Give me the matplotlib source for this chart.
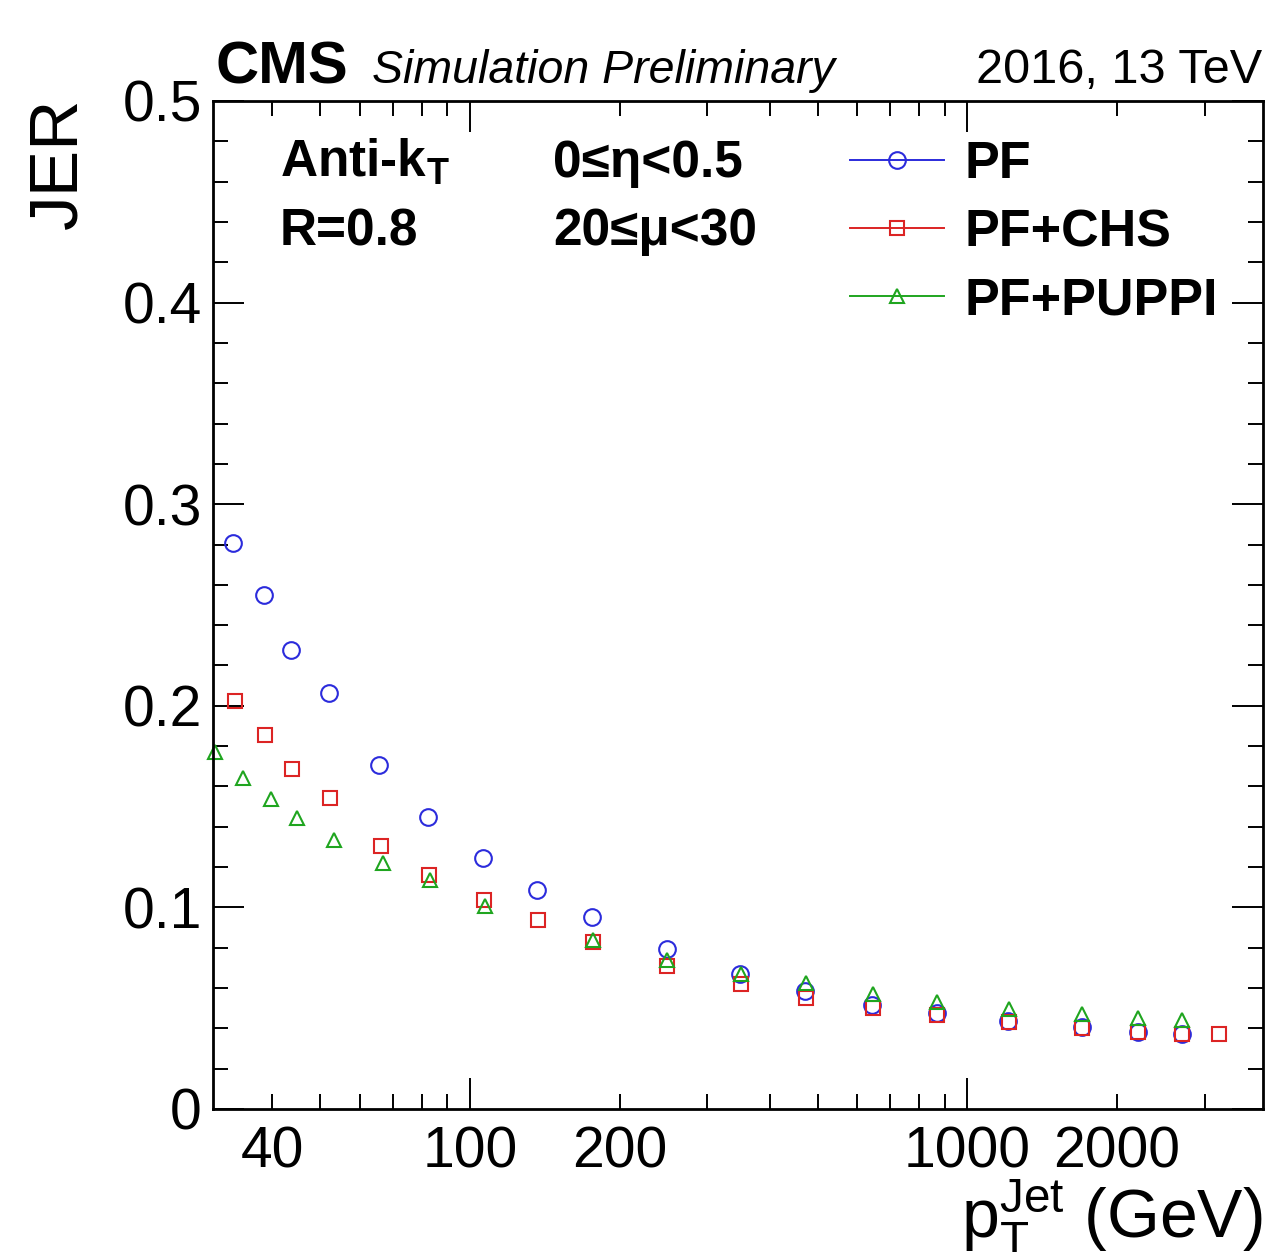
import matplotlib
matplotlib.use("Agg")
import matplotlib.pyplot as plt
from matplotlib.ticker import FixedLocator, FixedFormatter
from matplotlib.lines import Line2D


# Daten
pt_pf = [33.4, 38.5, 43.6, 52.0, 65.6, 82.2, 105.9, 136.2, 175.8,
         248.6, 349, 472, 644, 867, 1209, 1702, 2203, 2702]
jer_pf = [0.2806, 0.2550, 0.2277, 0.2062, 0.1706, 0.1450, 0.1247, 0.1086, 0.0951,
          0.0792, 0.0670, 0.0585, 0.0516, 0.0475, 0.0438, 0.0409, 0.0383, 0.0372]

pt_chs = [33.7, 38.7, 43.8, 52.2, 66.1, 82.8, 106.8, 137.2, 176.9,
          249, 350, 473, 646, 867, 1210, 1702, 2203, 2702, 3200]
jer_chs = [0.2024, 0.1855, 0.1685, 0.1541, 0.1305, 0.1161, 0.1037, 0.0938, 0.0830,
           0.0708, 0.0620, 0.0551, 0.0502, 0.0464, 0.0431, 0.0401, 0.0381, 0.0371, 0.0371]

pt_puppi = [30.7, 34.9, 39.8, 44.8, 53.3, 66.7, 83.0, 107.0, 176.9,
            249, 350, 473, 646, 867, 1210, 1702, 2203, 2702]
jer_puppi = [0.1772, 0.1644, 0.1540, 0.1441, 0.1334, 0.1218, 0.1136, 0.1008, 0.0838,
             0.0738, 0.0670, 0.0626, 0.0568, 0.0532, 0.0497, 0.0470, 0.0449, 0.0439]

labels = ["PF", "PF+CHS", "PF+PUPPI"]
colors = ["#2b2bdc", "#dc2424", "#1fa51f"]
markers = ["o", "s", "^"]
msizes = [12, 10, 10]

x_major = [100, 1000]
x_minor = [40, 50, 60, 70, 80, 90, 200, 300, 400, 500, 600, 700, 800, 900, 2000, 3000]
x_minor_labels = ["40", "", "", "", "", "", "200", "", "", "", "", "", "", "", "2000", ""]

# Plot-Einstellungen
DPI = 100
FONT = ["Liberation Sans", "DejaVu Sans"]
plt.rcParams["font.family"] = FONT
plt.rcParams["mathtext.fontset"] = "custom"
plt.rcParams["mathtext.rm"] = "Liberation Sans"
plt.rcParams["mathtext.bf"] = "Liberation Sans:bold"
plt.rcParams["mathtext.it"] = "Liberation Sans:italic"


def main():
    fig = plt.figure(figsize=(12.67, 12.52), dpi=DPI)
    ax = fig.add_axes([213 / 1267, 1 - 1109 / 1252, 1050 / 1267, 1008 / 1252])

    series = [(pt_pf, jer_pf), (pt_chs, jer_chs), (pt_puppi, jer_puppi)]
    for (x, y), c, m, ms in zip(series, colors, markers, msizes):
        ax.plot(x, y, linestyle="none", marker=m, ms=ms, mfc="none",
                mec=c, mew=1.5, clip_on=False)

    ax.set_xscale("log")
    ax.set_xlim(30.4, 3930)
    ax.set_ylim(0, 0.5)

    # Achsen-Ticks (ROOT-Stil)
    ax.xaxis.set_major_locator(FixedLocator(x_major))
    ax.xaxis.set_major_formatter(FixedFormatter(["100", "1000"]))
    ax.xaxis.set_minor_locator(FixedLocator(x_minor))
    ax.xaxis.set_minor_formatter(FixedFormatter(x_minor_labels))
    ax.set_yticks([0, 0.1, 0.2, 0.3, 0.4, 0.5])
    ax.set_yticklabels(["0", "0.1", "0.2", "0.3", "0.4", "0.5"])
    ax.set_yticks([i * 0.02 for i in range(26)], minor=True)

    ax.tick_params(which="both", direction="in", top=True, right=True,
                   width=1.4, labelsize=41)
    ax.tick_params(which="major", length=22)
    ax.tick_params(which="minor", length=11)
    ax.tick_params(axis="x", which="both", pad=12)
    ax.tick_params(axis="y", which="both", pad=8)
    for s in ax.spines.values():
        s.set_linewidth(2)

    # Achsentitel
    fig.text(58 / 1267, 1 - 98 / 1252, "JER", rotation=90, ha="center",
             va="top", fontsize=50)
    fig.text(1263 / 1267, 1 - 1238 / 1252,
             r"p$_{\mathrm{T}}^{\mathrm{Jet}}$ (GeV)", ha="right",
             va="baseline", fontsize=49)

    # Kopfzeile
    fig.text(216 / 1267, 1 - 83 / 1252, "CMS", fontsize=43,
             fontweight="bold", va="baseline")
    fig.text(372 / 1267, 1 - 83 / 1252, "Simulation Preliminary",
             fontsize=33.5, style="italic", va="baseline")
    fig.text(1262 / 1267, 1 - 83 / 1252, "2016, 13 TeV", fontsize=35,
             ha="right", va="baseline")

    # Infotexte
    ax.text(0.0638, 0.9246, r"Anti-k$_{\mathbf{T}}$", transform=ax.transAxes,
            fontsize=37, fontweight="bold", va="baseline")
    ax.text(0.0638, 0.8571, "R=0.8", transform=ax.transAxes,
            fontsize=37, fontweight="bold", va="baseline")
    ax.text(0.3238, 0.9246, "0≤η<0.5", transform=ax.transAxes,
            fontsize=37, fontweight="bold", va="baseline")
    ax.text(0.3238, 0.8571, "20≤μ<30", transform=ax.transAxes,
            fontsize=37, fontweight="bold", va="baseline")

    # Legende
    handles = [Line2D([], [], color=c, lw=1.4, marker=m, ms=ms, mfc="none",
                      mec=c, mew=1.5)
               for c, m, ms in zip(colors, markers, msizes)]
    ax.legend(handles, labels, loc="upper left",
              bbox_to_anchor=(0.6067, 0.9613), frameon=False,
              borderpad=0, borderaxespad=0, handlelength=1.8,
              handletextpad=0.4, labelspacing=0.37,
              prop={"family": FONT, "weight": "bold", "size": 37.5})

    fig.savefig("out.png", dpi=DPI)
    plt.close(fig)


if __name__ == "__main__":
    main()
